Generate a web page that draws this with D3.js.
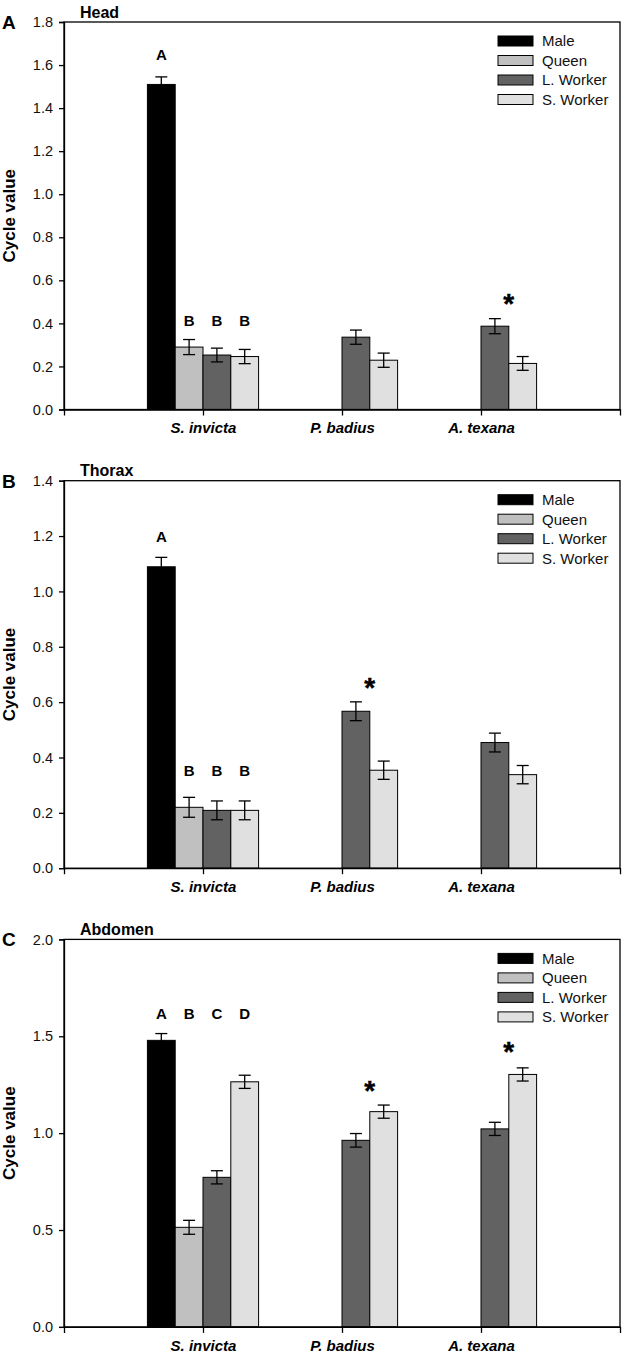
<!DOCTYPE html>
<html>
<head>
<meta charset="utf-8">
<script src="https://cdn.jsdelivr.net/npm/d3@7"></script>
<style>
  html, body { margin: 0; padding: 0; background: #fff; }
  svg { display: block; font-family: "Liberation Sans", Arial, sans-serif; }
</style>
</head>
<body>
<svg id="chart" width="625" height="1359"></svg>
<script>
// ---------- data ----------
const categories = ["S. invicta", "P. badius", "A. texana"];
const seriesNames = ["Male", "Queen", "L. Worker", "S. Worker"];
const seriesColors = ["#000000", "#c0c0c0", "#626262", "#e0e0e0"];

const panelTags = ["A", "B", "C"];
const panelTitles = ["Head", "Thorax", "Abdomen"];
const panelYMax = [1.8, 1.4, 2.0];

const headTicks = [0, 0.2, 0.4, 0.6, 0.8, 1.0, 1.2, 1.4, 1.6, 1.8];
const thoraxTicks = [0, 0.2, 0.4, 0.6, 0.8, 1.0, 1.2, 1.4];
const abdomenTicks = [0, 0.5, 1.0, 1.5, 2.0];

// means per series (rows) x category (cols); null = not measured
const headMeans = [
  [1.51, null, null],
  [0.29, null, null],
  [0.253, 0.336, 0.387],
  [0.246, 0.229, 0.214]
];
const headErrors = [
  [0.035, null, null],
  [0.035, null, null],
  [0.032, 0.033, 0.035],
  [0.033, 0.033, 0.032]
];
const thoraxMeans = [
  [1.089, null, null],
  [0.22, null, null],
  [0.209, 0.567, 0.454],
  [0.209, 0.354, 0.338]
];
const thoraxErrors = [
  [0.034, null, null],
  [0.036, null, null],
  [0.034, 0.034, 0.034],
  [0.034, 0.033, 0.033]
];
const abdomenMeans = [
  [1.479, null, null],
  [0.514, null, null],
  [0.772, 0.963, 1.022],
  [1.265, 1.111, 1.303]
];
const abdomenErrors = [
  [0.035, null, null],
  [0.036, null, null],
  [0.034, 0.035, 0.034],
  [0.034, 0.034, 0.034]
];

// significance letters: [categoryIndex, seriesIndex, text, value-height]
const headLetters = [[0, 0, "A", 1.647], [0, 1, "B", 0.414], [0, 2, "B", 0.414], [0, 3, "B", 0.414]];
const thoraxLetters = [[0, 0, "A", 1.197], [0, 1, "B", 0.354], [0, 2, "B", 0.354], [0, 3, "B", 0.354]];
const abdomenLetters = [[0, 0, "A", 1.617], [0, 1, "B", 1.617], [0, 2, "C", 1.617], [0, 3, "D", 1.617]];
// asterisks: [categoryIndex, value-height]
const headStars = [[2, 0.512]];
const thoraxStars = [[1, 0.667]];
const abdomenStars = [[1, 1.241], [2, 1.442]];

const panels = [
  { means: headMeans, errors: headErrors, ticks: headTicks, letters: headLetters, stars: headStars },
  { means: thoraxMeans, errors: thoraxErrors, ticks: thoraxTicks, letters: thoraxLetters, stars: thoraxStars },
  { means: abdomenMeans, errors: abdomenErrors, ticks: abdomenTicks, letters: abdomenLetters, stars: abdomenStars }
];

// ---------- layout ----------
const svg = d3.select("#chart");
svg.append("rect").attr("width", 625).attr("height", 1359).attr("fill", "#fff");

const left = 64, right = 620;
const panelTop0 = 22, panelStep = 458.7, plotH = 387.5;
const lw = 1.3;

const x = d3.scalePoint().domain(categories).range([left, right]).padding(1);
const barW = x.step() / 5;
const slot = d3.scaleBand().domain(seriesNames).range([-2 * barW, 2 * barW]).padding(0);

panels.forEach((p, pi) => {
  const top = panelTop0 + pi * panelStep;
  const bottom = top + plotH;
  const y = d3.scaleLinear().domain([0, panelYMax[pi]]).range([bottom, top]);
  const g = svg.append("g");

  // bars
  const bars = [];
  p.means.forEach((row, si) => row.forEach((v, ci) => {
    if (v !== null) bars.push({ si, ci, v, e: p.errors[si][ci] });
  }));

  g.selectAll("rect.bar").data(bars).join("rect")
    .attr("class", "bar")
    .attr("x", d => x(categories[d.ci]) + slot(seriesNames[d.si]))
    .attr("y", d => y(d.v))
    .attr("width", slot.bandwidth())
    .attr("height", d => y(0) - y(d.v))
    .attr("fill", d => seriesColors[d.si])
    .attr("stroke", "#000")
    .attr("stroke-width", 1);

  // error bars
  const capW = 12;
  bars.forEach(d => {
    const cx = x(categories[d.ci]) + slot(seriesNames[d.si]) + slot.bandwidth() / 2;
    const y1 = y(d.v + d.e), y2 = y(d.v - d.e);
    const eg = g.append("g").attr("stroke", "#000").attr("stroke-width", lw).attr("fill", "none");
    eg.append("line").attr("x1", cx).attr("x2", cx).attr("y1", y1).attr("y2", y2);
    eg.append("line").attr("x1", cx - capW / 2).attr("x2", cx + capW / 2).attr("y1", y1).attr("y2", y1);
    eg.append("line").attr("x1", cx - capW / 2).attr("x2", cx + capW / 2).attr("y1", y2).attr("y2", y2);
  });

  // frame
  g.append("rect")
    .attr("x", left).attr("y", top).attr("width", right - left).attr("height", plotH)
    .attr("fill", "none").attr("stroke", "#000").attr("stroke-width", lw);

  // y axis
  const ya = g.append("g").attr("transform", `translate(${left},0)`)
    .call(d3.axisLeft(y).tickValues(p.ticks).tickFormat(d3.format(".1f")).tickSize(5).tickPadding(6));
  ya.select(".domain").attr("stroke-width", lw);
  ya.selectAll(".tick line").attr("stroke-width", lw);
  ya.selectAll("text").attr("font-size", 14.5).attr("fill", "#111")
    .attr("font-family", "Liberation Sans, Arial, sans-serif");

  // x axis
  const xa = g.append("g").attr("transform", `translate(0,${bottom})`)
    .call(d3.axisBottom(x).tickSizeOuter(0).tickSize(6).tickPadding(7));
  xa.select(".domain").attr("stroke-width", lw);
  xa.selectAll(".tick line").attr("stroke-width", lw);
  xa.selectAll("text").attr("font-size", 15).attr("font-weight", "bold").attr("font-style", "italic")
    .attr("fill", "#000").attr("font-family", "Liberation Sans, Arial, sans-serif");

  // y label
  g.append("text")
    .attr("transform", `translate(14.5,${(top + bottom) / 2}) rotate(-90)`)
    .attr("text-anchor", "middle")
    .attr("font-size", 17).attr("font-weight", "bold")
    .text("Cycle value");

  // panel tag & title
  g.append("text").attr("x", 2).attr("y", top + 7)
    .attr("font-size", 19).attr("font-weight", "bold").text(panelTags[pi]);
  g.append("text").attr("x", 80).attr("y", top - 4.5)
    .attr("font-size", 16).attr("font-weight", "bold").text(panelTitles[pi]);

  // letters
  g.selectAll("text.letter").data(p.letters).join("text")
    .attr("class", "letter")
    .attr("x", d => x(categories[d[0]]) + slot(seriesNames[d[1]]) + slot.bandwidth() / 2)
    .attr("y", d => y(d[3]))
    .attr("dy", "0.36em")
    .attr("text-anchor", "middle")
    .attr("font-size", 15).attr("font-weight", "bold")
    .text(d => d[2]);

  // stars
  g.selectAll("text.star").data(p.stars).join("text")
    .attr("class", "star")
    .attr("x", d => x(categories[d[0]]) + barW)
    .attr("y", d => y(d[1]) + 13.5)
    .attr("text-anchor", "middle")
    .attr("font-size", 28).attr("font-weight", "bold")
    .attr("stroke", "#000").attr("stroke-width", 0.4)
    .text("*");

  // legend
  const lg = g.append("g");
  seriesNames.forEach((s, si) => {
    const cy = top + 19 + si * 19.5;
    lg.append("rect").attr("x", 498).attr("y", cy - 5).attr("width", 35).attr("height", 10)
      .attr("fill", seriesColors[si]).attr("stroke", "#000").attr("stroke-width", 1);
    lg.append("text").attr("x", 542).attr("y", cy).attr("dy", "0.36em")
      .attr("font-size", 15).attr("fill", "#111").text(s);
  });
});
</script>
</body>
</html>
